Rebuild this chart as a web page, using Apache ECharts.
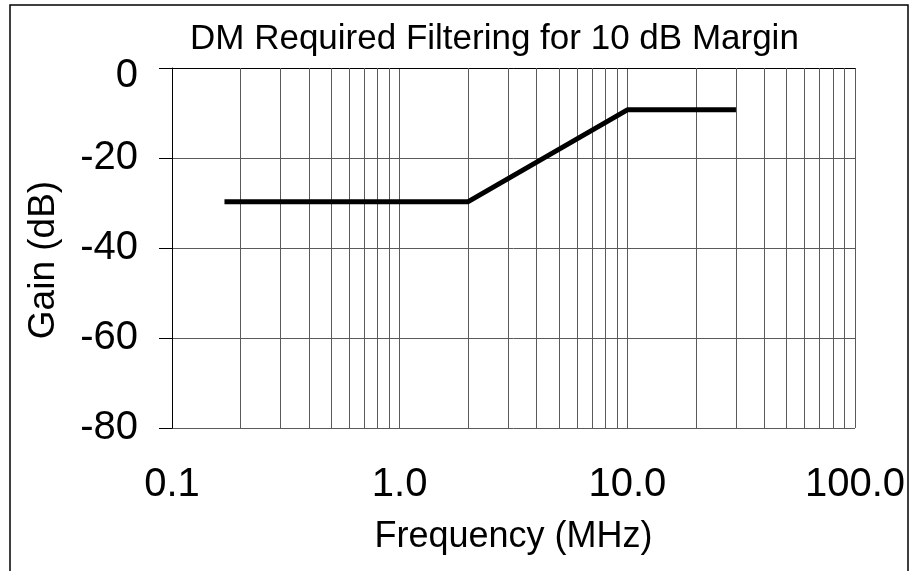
<!doctype html>
<html>
    <head>
        <meta charset="utf-8">
        <style>
            html, body { margin: 0; padding: 0; background: #fff; }
            #main { width: 912px; height: 571px; }
        </style>
    </head>
    <body>
        <div id="main"></div>
        <script src="https://cdn.jsdelivr.net/npm/echarts@6/dist/echarts.min.js"></script>
        <script>
            var chart = echarts.init(document.getElementById('main'));

            // required filtering curve
            var freqMHz = [0.17, 2, 10, 30];
            var gainDb = [-29.7, -29.7, -9.3, -9.3];

            // minor decade gridlines of the log axis
            var minorFreqs = [0.2, 0.3, 0.4, 0.5, 0.6, 0.7, 0.8, 0.9,
                              2, 3, 4, 5, 6, 7, 8, 9,
                              20, 30, 40, 50, 60, 70, 80, 90];

            var font = 'Liberation Sans, Arial, sans-serif';
            var gridColor = '#5a5a5a';

            var curve = freqMHz.map(function (f, i) { return [f, gainDb[i]]; });

            chart.setOption({
                animation: false,
                backgroundColor: '#fff',
                title: {
                    text: 'DM Required Filtering for 10 dB Margin',
                    left: 185,
                    top: 17,
                    textStyle: { fontFamily: font, fontSize: 35, fontWeight: 'normal', color: '#000' }
                },
                graphic: [{
                    type: 'rect',
                    shape: { x: 10, y: 5, width: 898, height: 600 },
                    style: { fill: 'none', stroke: '#000', lineWidth: 1.5 },
                    silent: true
                }],
                grid: { left: 172, right: 57, top: 68, bottom: 143 },
                xAxis: {
                    type: 'log',
                    logBase: 10,
                    min: 0.1,
                    max: 100,
                    name: 'Frequency (MHz)',
                    nameLocation: 'middle',
                    nameGap: 91,
                    nameTextStyle: { fontFamily: font, fontSize: 36, color: '#000' },
                    axisLine: { lineStyle: { color: '#000', width: 1 } },
                    axisTick: { show: false },
                    axisLabel: {
                        fontFamily: font, fontSize: 40, color: '#000', margin: 37,
                        formatter: function (v) { return v.toFixed(1); }
                    },
                    splitLine: { show: true, lineStyle: { color: gridColor, width: 1 } }
                },
                yAxis: {
                    type: 'value',
                    min: -80,
                    max: 0,
                    interval: 20,
                    name: 'Gain (dB)',
                    nameLocation: 'middle',
                    nameGap: 110,
                    nameTextStyle: { fontFamily: font, fontSize: 37, color: '#000', padding: [0, 24, 0, 0] },
                    axisLine: { show: true, lineStyle: { color: '#000', width: 1 } },
                    axisTick: { show: true, length: 13, lineStyle: { color: '#000' } },
                    axisLabel: {
                        fontFamily: font, fontSize: 40, color: '#000', margin: 34,
                        formatter: function (v) { return v === 0 ? '{top|0}' : String(v); },
                        rich: { top: { fontFamily: font, fontSize: 40, color: '#000', padding: [16, 0, 0, 0] } }
                    },
                    splitLine: { show: true, lineStyle: { color: gridColor, width: 1 } }
                },
                series: [{
                    type: 'line',
                    data: curve,
                    symbol: 'none',
                    z: 5,
                    lineStyle: { color: '#000', width: 5 },
                    markLine: {
                        silent: true,
                        symbol: 'none',
                        label: { show: false },
                        lineStyle: { color: gridColor, width: 1, type: 'solid' },
                        data: minorFreqs.map(function (f) { return { xAxis: f }; })
                    }
                }]
            });

            window.onresize = chart.resize;
        </script>
    </body>
</html>
